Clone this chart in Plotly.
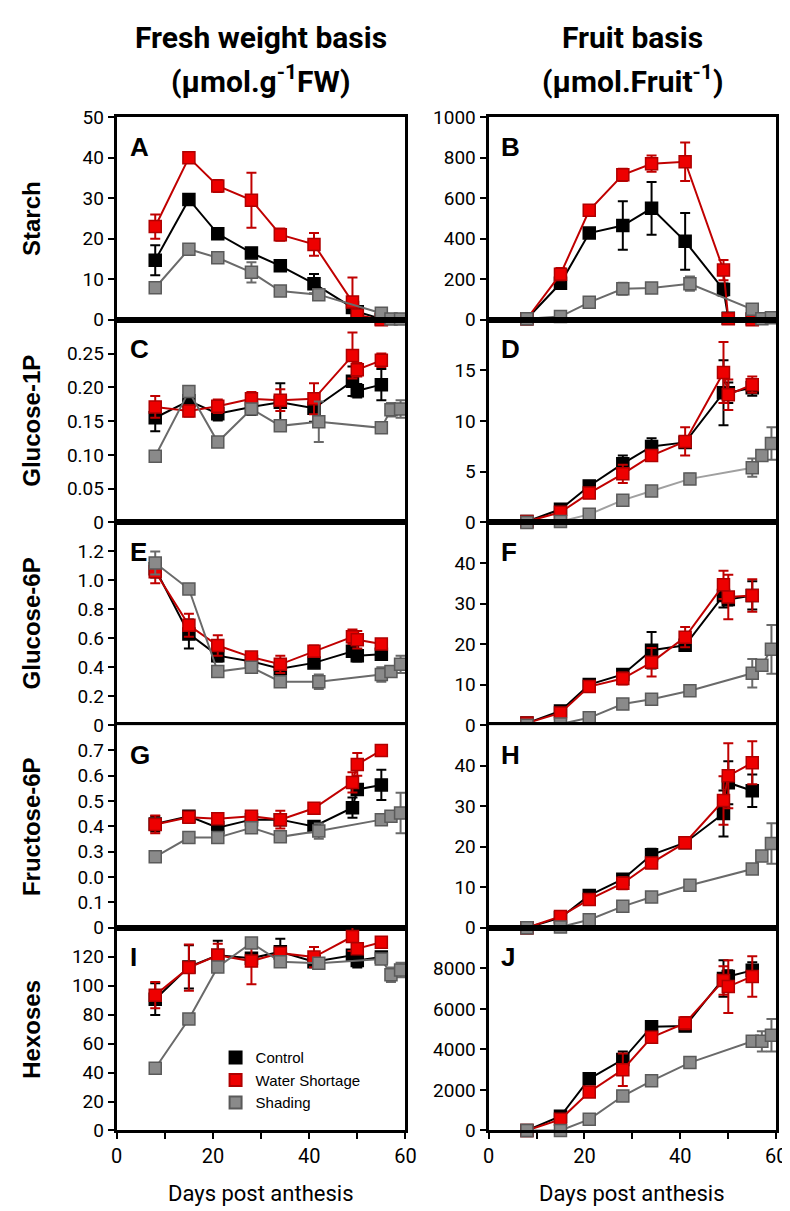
import plotly.graph_objects as go

# ---------------- data ----------------
days_cw = [8, 15, 21, 28, 34, 41, 49, 50, 55]      # Control & Water Shortage
days_sh = [8, 15, 21, 28, 34, 42, 55, 57, 59]      # Shading

# A  Starch, fresh weight basis
starch_fw_control = [14.7, 29.7, 21.2, 16.5, 13.3, 8.9, 3.0, 2.0, 0.2]
starch_fw_control_err = [3.7, 1.0, 0.8, 0.8, 0.5, 2.4, 1.0, 0.5, 0.2]
starch_fw_water = [23.0, 40.0, 33.0, 29.5, 21.0, 18.6, 4.4, 1.2, 0.0]
starch_fw_water_err = [3.0, 1.0, 1.5, 6.8, 1.5, 2.8, 6.0, 1.0, 1.0]
starch_fw_shading = [7.9, 17.4, 15.3, 11.7, 7.1, 6.2, 1.6, 0.2, 0.2]
starch_fw_shading_err = [0.5, 0.5, 0.5, 2.5, 0.3, 0.5, 0.3, 0.1, 0.1]

# B  Starch, fruit basis
starch_fr_control = [5, 180, 428, 465, 550, 387, 149, 8, 5]
starch_fr_control_err = [3, 20, 20, 120, 130, 140, 30, 5, 3]
starch_fr_water = [5, 225, 540, 715, 770, 780, 245, 5, 0]
starch_fr_water_err = [3, 30, 20, 30, 40, 95, 50, 5, 0]
starch_fr_shading = [5, 16, 86, 153, 157, 178, 52, 5, 10]
starch_fr_shading_err = [2, 5, 10, 30, 10, 35, 10, 3, 5]

# C  Glucose-1P, fresh weight basis
g1p_fw_control = [0.155, 0.180, 0.161, 0.171, 0.178, 0.169, 0.209, 0.195, 0.204]
g1p_fw_control_err = [0.020, 0.010, 0.010, 0.012, 0.028, 0.020, 0.022, 0.010, 0.023]
g1p_fw_water = [0.171, 0.165, 0.172, 0.183, 0.181, 0.183, 0.247, 0.226, 0.240]
g1p_fw_water_err = [0.016, 0.008, 0.010, 0.010, 0.016, 0.023, 0.034, 0.010, 0.010]
g1p_fw_shading = [0.098, 0.194, 0.119, 0.168, 0.143, 0.149, 0.140, 0.167, 0.168]
g1p_fw_shading_err = [0.004, 0.004, 0.004, 0.004, 0.004, 0.030, 0.004, 0.010, 0.013]

# D  Glucose-1P, fruit basis
g1p_fr_control = [0.1, 1.3, 3.6, 5.8, 7.5, 7.9, 12.8, 12.8, 13.3]
g1p_fr_control_err = [0.1, 0.3, 0.5, 0.8, 0.8, 0.3, 3.2, 1.0, 0.8]
g1p_fr_water = [0.1, 1.0, 2.9, 4.8, 6.6, 8.0, 14.8, 12.6, 13.6]
g1p_fr_water_err = [0.1, 0.2, 0.3, 0.9, 0.4, 1.4, 3.0, 1.5, 0.8]
g1p_fr_shading = [0.0, 0.1, 0.8, 2.2, 3.1, 4.3, 5.4, 6.6, 7.8]
g1p_fr_shading_err = [0.0, 0.0, 0.1, 0.2, 0.2, 0.5, 0.9, 0.3, 1.6]

# E  Glucose-6P, fresh weight basis
g6p_fw_control = [1.08, 0.63, 0.48, 0.44, 0.39, 0.43, 0.51, 0.48, 0.49]
g6p_fw_control_err = [0.06, 0.10, 0.04, 0.02, 0.03, 0.03, 0.03, 0.04, 0.04]
g6p_fw_water = [1.06, 0.69, 0.55, 0.47, 0.42, 0.51, 0.61, 0.59, 0.56]
g6p_fw_water_err = [0.08, 0.08, 0.07, 0.02, 0.06, 0.04, 0.05, 0.06, 0.03]
g6p_fw_shading = [1.12, 0.94, 0.37, 0.40, 0.30, 0.30, 0.35, 0.37, 0.42]
g6p_fw_shading_err = [0.08, 0.02, 0.02, 0.02, 0.02, 0.05, 0.05, 0.02, 0.06]

# F  Glucose-6P, fruit basis
g6p_fr_control = [0.5, 3.5, 10.0, 12.5, 18.5, 19.7, 32.0, 31.0, 32.0]
g6p_fr_control_err = [0.2, 0.5, 1.0, 1.0, 4.5, 0.5, 3.0, 1.5, 3.5]
g6p_fr_water = [0.5, 3.0, 9.5, 11.5, 15.5, 21.7, 34.6, 31.6, 32.0]
g6p_fr_water_err = [0.2, 0.5, 1.0, 1.5, 3.5, 2.5, 3.5, 5.5, 4.0]
g6p_fr_shading = [0.0, 0.3, 1.8, 5.2, 6.4, 8.5, 12.8, 14.8, 18.7]
g6p_fr_shading_err = [0.0, 0.1, 0.2, 0.3, 0.3, 0.5, 3.5, 1.0, 6.0]

# G  Fructose-6P, fresh weight basis
f6p_fw_control = [0.41, 0.44, 0.395, 0.427, 0.427, 0.40, 0.474, 0.546, 0.564]
f6p_fw_control_err = [0.03, 0.01, 0.01, 0.01, 0.01, 0.01, 0.04, 0.02, 0.06]
f6p_fw_water = [0.408, 0.436, 0.43, 0.44, 0.427, 0.472, 0.574, 0.645, 0.70]
f6p_fw_water_err = [0.035, 0.01, 0.01, 0.01, 0.035, 0.01, 0.04, 0.045, 0.0]
f6p_fw_shading = [0.28, 0.356, 0.356, 0.395, 0.359, 0.382, 0.427, 0.44, 0.453]
f6p_fw_shading_err = [0.0, 0.0, 0.0, 0.01, 0.0, 0.03, 0.0, 0.0, 0.08]

# H  Fructose-6P, fruit basis
f6p_fr_control = [0.0, 2.5, 8.0, 12.0, 18.0, 21.0, 28.2, 35.8, 33.8]
f6p_fr_control_err = [0.0, 0.3, 0.8, 1.2, 1.5, 0.5, 5.7, 5.3, 4.0]
f6p_fr_water = [0.0, 2.8, 7.0, 11.0, 16.0, 21.0, 31.4, 37.5, 40.7]
f6p_fr_water_err = [0.0, 0.3, 0.5, 1.5, 1.0, 0.5, 6.0, 8.0, 5.3]
f6p_fr_shading = [0.0, 0.2, 2.0, 5.3, 7.6, 10.5, 14.5, 17.7, 20.8]
f6p_fr_shading_err = [0.0, 0.0, 0.1, 0.2, 0.2, 0.3, 0.5, 1.0, 5.0]

# I  Hexoses, fresh weight basis
hex_fw_control = [90.7, 113, 121, 119, 123.4, 116.6, 121, 117.5, 119.8]
hex_fw_control_err = [11, 15, 10, 3, 9, 3, 3, 5, 3]
hex_fw_water = [93.5, 112.5, 121, 117, 122.5, 119.8, 134, 125.6, 130]
hex_fw_water_err = [9, 16, 8, 16, 3, 7, 10, 3, 2]
hex_fw_shading = [43, 77, 113, 129.5, 116.6, 115.5, 118.4, 107.6, 110.9]
hex_fw_shading_err = [1, 1, 1, 1, 2, 2, 2, 5, 5]

# J  Hexoses, fruit basis
hex_fr_control = [0, 700, 2550, 3500, 5120, 5150, 7500, 7600, 7900]
hex_fr_control_err = [0, 100, 150, 400, 100, 100, 900, 300, 400]
hex_fr_water = [0, 550, 1900, 3000, 4600, 5300, 7400, 7100, 7600]
hex_fr_water_err = [0, 100, 150, 800, 200, 300, 700, 1300, 1000]
hex_fr_shading = [0, 0, 550, 1700, 2450, 3350, 4400, 4400, 4700]
hex_fr_shading_err = [0, 0, 100, 100, 100, 200, 100, 500, 800]

row_labels = ["Starch", "Glucose-1P", "Glucose-6P", "Fructose-6P", "Hexoses"]
panel_letters = ["A", "B", "C", "D", "E", "F", "G", "H", "I", "J"]
series_names = ["Control", "Water Shortage", "Shading"]

# y tick values / labels per panel
ticks_A = [0, 10, 20, 30, 40, 50]
ticklabels_A = ["0", "10", "20", "30", "40", "50"]
ticks_B = [0, 200, 400, 600, 800, 1000]
ticklabels_B = ["0", "200", "400", "600", "800", "1000"]
ticks_C = [0, 0.05, 0.10, 0.15, 0.20, 0.25]
ticklabels_C = ["0", "0.05", "0.10", "0.15", "0.20", "0.25"]
ticks_D = [0, 5, 10, 15]
ticklabels_D = ["0", "5", "10", "15"]
ticks_E = [0, 0.2, 0.4, 0.6, 0.8, 1.0, 1.2]
ticklabels_E = ["0", "0.2", "0.4", "0.6", "0.8", "1.0", "1.2"]
ticks_F = [0, 10, 20, 30, 40]
ticklabels_F = ["0", "10", "20", "30", "40"]
ticks_G = [0, 0.1, 0.2, 0.3, 0.4, 0.5, 0.6, 0.7]
ticklabels_G = ["0", "0.1", "0.0", "0.3", "0.4", "0.5", "0.6", "0.7"]
ticks_H = [0, 10, 20, 30, 40]
ticklabels_H = ["0", "10", "20", "30", "40"]
ticks_I = [0, 20, 40, 60, 80, 100, 120]
ticklabels_I = ["0", "20", "40", "60", "80", "100", "120"]
ticks_J = [0, 2000, 4000, 6000, 8000]
ticklabels_J = ["0", "2000", "4000", "6000", "8000"]
x_ticks = [0, 10, 20, 30, 40, 50, 60]
x_ticklabels = ["0", "", "20", "", "40", "", "60"]

# ---------------- layout geometry (pixels) ----------------
W, H = 790, 1211
col_x = [(105, 400), (485, 779)]
row_top0, row_h = 100, 206.6

def fx(px):
    return px / W

def fy(py):
    return 1 - py / H

panels = [
    (0, 0, [starch_fw_control, starch_fw_water, starch_fw_shading],
     [starch_fw_control_err, starch_fw_water_err, starch_fw_shading_err], [0, 50], ticks_A, ticklabels_A),
    (0, 1, [starch_fr_control, starch_fr_water, starch_fr_shading],
     [starch_fr_control_err, starch_fr_water_err, starch_fr_shading_err], [0, 1000], ticks_B, ticklabels_B),
    (1, 0, [g1p_fw_control, g1p_fw_water, g1p_fw_shading],
     [g1p_fw_control_err, g1p_fw_water_err, g1p_fw_shading_err], [0, 0.3], ticks_C, ticklabels_C),
    (1, 1, [g1p_fr_control, g1p_fr_water, g1p_fr_shading],
     [g1p_fr_control_err, g1p_fr_water_err, g1p_fr_shading_err], [0, 20], ticks_D, ticklabels_D),
    (2, 0, [g6p_fw_control, g6p_fw_water, g6p_fw_shading],
     [g6p_fw_control_err, g6p_fw_water_err, g6p_fw_shading_err], [0, 1.4], ticks_E, ticklabels_E),
    (2, 1, [g6p_fr_control, g6p_fr_water, g6p_fr_shading],
     [g6p_fr_control_err, g6p_fr_water_err, g6p_fr_shading_err], [0, 50], ticks_F, ticklabels_F),
    (3, 0, [f6p_fw_control, f6p_fw_water, f6p_fw_shading],
     [f6p_fw_control_err, f6p_fw_water_err, f6p_fw_shading_err], [0, 0.8], ticks_G, ticklabels_G),
    (3, 1, [f6p_fr_control, f6p_fr_water, f6p_fr_shading],
     [f6p_fr_control_err, f6p_fr_water_err, f6p_fr_shading_err], [0, 50], ticks_H, ticklabels_H),
    (4, 0, [hex_fw_control, hex_fw_water, hex_fw_shading],
     [hex_fw_control_err, hex_fw_water_err, hex_fw_shading_err], [0, 140], ticks_I, ticklabels_I),
    (4, 1, [hex_fr_control, hex_fr_water, hex_fr_shading],
     [hex_fr_control_err, hex_fr_water_err, hex_fr_shading_err], [0, 10000], ticks_J, ticklabels_J),
]

styles = [
    dict(fill="#000000", edge="#000000", line="#000000", err="#000000"),
    dict(fill="#ee0000", edge="#b00000", line="#c00000", err="#c00000"),
    dict(fill="#8a8a8a", edge="#5a5a5a", line="#6a6a6a", err="#6a6a6a"),
]

narrow = "Roboto, Liberation Sans, Arial, sans-serif"
tick_font = dict(family=narrow, size=19, color="#000")
fig = go.Figure()
layout = {}
annotations = []

for i, (r, c, vals, errs, yr, tv, tt) in enumerate(panels):
    n = i + 1
    xa = "x" if n == 1 else f"x{n}"
    ya = "y" if n == 1 else f"y{n}"
    top = row_top0 + r * row_h
    bot = top + row_h
    x0, x1 = col_x[c]
    for s in range(3):
        st = styles[s]
        xs = days_sh if s == 2 else days_cw
        lc = st["line"]
        if i == 3 and s == 2:
            lc = "#a0a0a0"
        fig.add_trace(go.Scatter(
            x=xs, y=vals[s], xaxis=xa, yaxis=ya, mode="lines+markers",
            name=series_names[s], showlegend=False, cliponaxis=False,
            line=dict(color=lc, width=2),
            marker=dict(symbol="square", size=12, color=st["fill"],
                        line=dict(color=st["edge"], width=1.5)),
            error_y=dict(type="data", array=errs[s], visible=True,
                         color=st["err"], thickness=2, width=5),
        ))
    bottom_row = (r == 4)
    layout["xaxis" if n == 1 else f"xaxis{n}"] = dict(
        domain=[fx(x0), fx(x1)], anchor=ya, range=[0, 60],
        showline=True, linecolor="#000", linewidth=3, mirror=True,
        showgrid=False, zeroline=False,
        ticks="outside" if bottom_row else "", ticklen=6, tickwidth=2, tickcolor="#000",
        tickvals=x_ticks if bottom_row else [], ticktext=x_ticklabels if bottom_row else [],
        showticklabels=bottom_row, tickfont=dict(family=narrow, size=20, color="#000"),
    )
    layout["yaxis" if n == 1 else f"yaxis{n}"] = dict(
        domain=[fy(bot), fy(top)], anchor=xa, range=yr,
        showline=True, linecolor="#000", linewidth=3, mirror=True,
        showgrid=False, zeroline=False,
        ticks="outside", ticklen=6, tickwidth=2, tickcolor="#000",
        tickvals=tv, ticktext=tt, tickfont=tick_font,
    )
    annotations.append(dict(
        text=f"<b>{panel_letters[i]}</b>", x=fx(x0 + 11), y=fy(top + 30),
        xref="paper", yref="paper", xanchor="left", yanchor="middle", showarrow=False,
        font=dict(family="Liberation Sans, Arial, sans-serif", size=26, color="#000"),
    ))

# row labels
for r, lab in enumerate(row_labels):
    cy = row_top0 + r * row_h + row_h / 2
    annotations.append(dict(
        text=f"<b>{lab}</b>", x=fx(18), y=fy(cy), xref="paper", yref="paper",
        xanchor="center", yanchor="middle", showarrow=False, textangle=-90,
        font=dict(family="Liberation Sans, Arial, sans-serif", size=24, color="#000"),
    ))

# column titles
title_font = dict(family=narrow, size=30, color="#000")
col_titles = [("Fresh weight basis", "(µmol.g<sup>-1</sup>FW)"), ("Fruit basis", "(µmol.Fruit<sup>-1</sup>)")]
for c, (l1, l2) in enumerate(col_titles):
    cx = (col_x[c][0] + col_x[c][1]) / 2
    annotations.append(dict(text=f"<b>{l1}</b>", x=fx(cx), y=fy(19), xref="paper", yref="paper",
                            xanchor="center", yanchor="middle", showarrow=False, font=title_font))
    annotations.append(dict(text=f"<b>{l2}</b>", x=fx(cx), y=fy(62), xref="paper", yref="paper",
                            xanchor="center", yanchor="middle", showarrow=False, font=title_font))
    annotations.append(dict(text="Days post anthesis", x=fx(cx), y=fy(1197), xref="paper", yref="paper",
                            xanchor="center", yanchor="middle", showarrow=False,
                            font=dict(family=narrow, size=22, color="#000")))

# legend entries (marker only)
for s in range(3):
    st = styles[s]
    fig.add_trace(go.Scatter(
        x=[None], y=[None], mode="markers", name=series_names[s], xaxis="x9", yaxis="y9",
        marker=dict(symbol="square", size=14, color=st["fill"], line=dict(color=st["edge"], width=1.5)),
    ))

fig.update_layout(
    width=W, height=H, margin=dict(l=0, r=0, t=0, b=0),
    paper_bgcolor="white", plot_bgcolor="white",
    annotations=annotations,
    showlegend=True,
    legend=dict(x=fx(206), y=fy(1042), xanchor="left", yanchor="top",
                bgcolor="rgba(0,0,0,0)", font=dict(family="Liberation Sans, Arial, sans-serif", size=15, color="#000"),
                itemsizing="constant", tracegroupgap=0),
    **layout,
)

fig.write_html("out.html")
